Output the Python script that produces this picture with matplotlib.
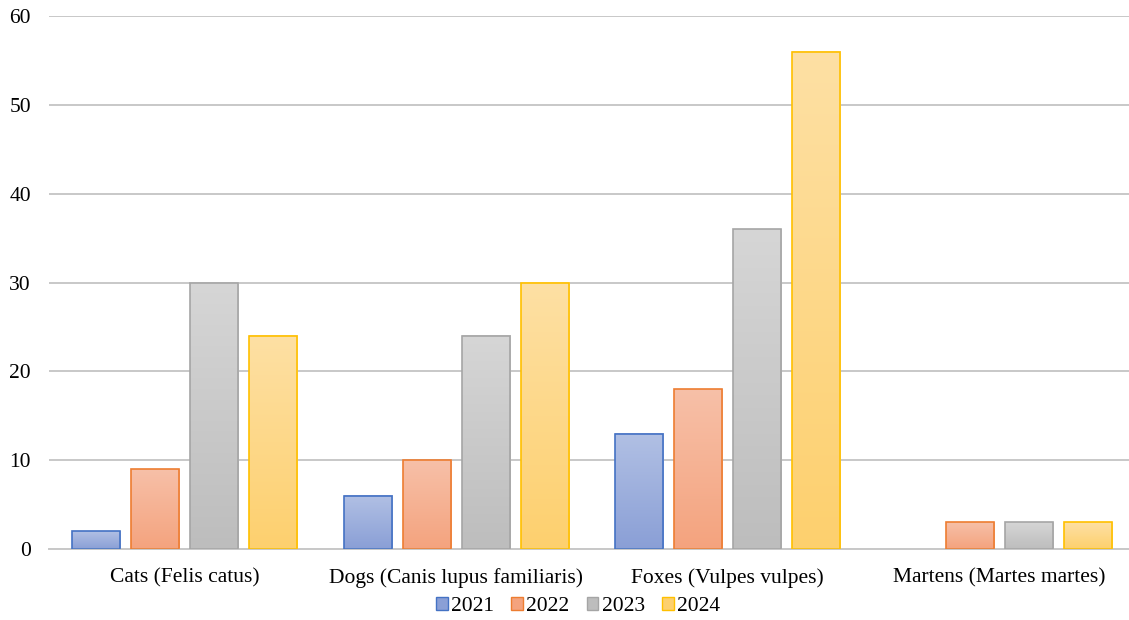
import numpy as np
import matplotlib
matplotlib.use("Agg")
import matplotlib.pyplot as plt
from matplotlib.colors import LinearSegmentedColormap
from matplotlib.patches import Patch

plt.rcParams['font.family'] = ['Liberation Serif', 'DejaVu Serif']

categories = ["Cats (Felis catus)", "Dogs (Canis lupus familiaris)",
              "Foxes (Vulpes vulpes)", "Martens (Martes martes)"]
years = ["2021", "2022", "2023", "2024"]
values = {
    "2021": [2, 6, 13, 0],
    "2022": [9, 10, 18, 3],
    "2023": [30, 24, 36, 3],
    "2024": [24, 30, 56, 3],
}

# (top colour, bottom colour, edge colour)
styles = {
    "2021": ("#b1c0e4", "#8a9fd6", "#4472c4"),
    "2022": ("#f7c0a8", "#f4a37e", "#ed7d31"),
    "2023": ("#d6d6d6", "#bdbdbd", "#a5a5a5"),
    "2024": ("#fee0a4", "#fdd06e", "#ffc000"),
}

fig = plt.figure(figsize=(11.29, 6.20), dpi=100)
# plot area runs a little past the right edge, like the original crop
ax = fig.add_axes([49/1129, 71/620, 1086/1129, 533/620])

x = np.arange(len(categories))
width = 0.177
step = 0.217

grad = np.linspace(0, 1, 256).reshape(-1, 1)
for i, yr in enumerate(years):
    top, bottom, edge = styles[yr]
    cmap = LinearSegmentedColormap.from_list(yr, [bottom, top])
    offs = x + (i - 1.5) * step
    bars = ax.bar(offs, values[yr], width, facecolor="none", edgecolor=edge,
                  linewidth=1.2, zorder=3)
    for b in bars:
        h = b.get_height()
        if h <= 0:
            b.set_visible(False)
            continue
        bx = b.get_x()
        ax.imshow(grad, cmap=cmap, origin="lower", aspect="auto",
                  extent=(bx, bx + width, 0, h), zorder=2.5)

ax.set_xlim(-0.5, len(categories) - 0.5)
ax.set_ylim(0, 60)
ax.set_yticks(range(0, 61, 10))
ax.set_xticks(x)
ax.set_xticklabels(categories)
ax.tick_params(axis="both", length=0, labelsize=15.5, colors="black")
ax.tick_params(axis="x", pad=14)
ax.tick_params(axis="y", pad=13)
ax.grid(axis="y", color="#c8c8c8", linewidth=1.4, zorder=0)
ax.set_axisbelow(True)
for s in ["top", "right", "left"]:
    ax.spines[s].set_visible(False)
ax.spines["bottom"].set_color("#c8c8c8")
ax.spines["bottom"].set_linewidth(1.4)

handles = [Patch(facecolor=styles[yr][1], edgecolor=styles[yr][2], label=yr)
           for yr in years]
fig.legend(handles=handles, loc="center", ncol=4, frameon=False,
           fontsize=15.5, bbox_to_anchor=(0.512, 0.022), handlelength=0.55,
           handleheight=0.6, handletextpad=0.15, columnspacing=0.8,
           borderpad=0.1)

fig.savefig("out.png", dpi=100)
